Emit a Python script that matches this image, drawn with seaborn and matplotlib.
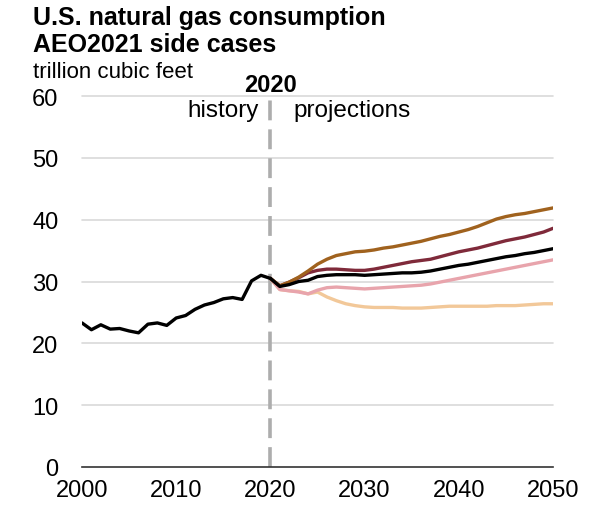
import pandas as pd
import matplotlib
matplotlib.use('Agg')
import matplotlib.pyplot as plt
import seaborn as sns

# history, trillion cubic feet
hist_years = list(range(2000, 2021))
hist_values = [23.3, 22.2, 23.0, 22.3, 22.4, 22.0, 21.7, 23.1, 23.3, 22.9, 24.1,
               24.5, 25.5, 26.2, 26.6, 27.2, 27.4, 27.1, 30.1, 31.0, 30.5]

# projections, starting at the last history year
proj_years = list(range(2020, 2051))
high_supply = [30.5, 29.3, 29.9, 30.7, 31.7, 32.8, 33.6, 34.2, 34.5, 34.8, 34.9,
               35.1, 35.4, 35.6, 35.9, 36.2, 36.5, 36.9, 37.3, 37.6, 38.0,
               38.4, 38.9, 39.5, 40.1, 40.5, 40.8, 41.0, 41.3, 41.6, 41.9]
high_growth = [30.5, 29.3, 29.9, 30.6, 31.4, 31.8, 32.0, 32.0, 31.9, 31.8, 31.8,
               32.0, 32.3, 32.6, 32.9, 33.2, 33.4, 33.6, 34.0, 34.4, 34.8,
               35.1, 35.4, 35.8, 36.2, 36.6, 36.9, 37.2, 37.6, 38.0, 38.6]
reference = [30.5, 29.2, 29.5, 30.0, 30.2, 30.8, 31.0, 31.1, 31.1, 31.1, 31.0,
             31.1, 31.2, 31.3, 31.4, 31.4, 31.5, 31.7, 32.0, 32.3, 32.6,
             32.8, 33.1, 33.4, 33.7, 34.0, 34.2, 34.5, 34.7, 35.0, 35.3]
low_growth = [30.5, 28.7, 28.5, 28.3, 28.0, 28.6, 29.0, 29.1, 29.0, 28.9, 28.8,
              28.9, 29.0, 29.1, 29.2, 29.3, 29.4, 29.6, 29.9, 30.2, 30.5,
              30.8, 31.1, 31.4, 31.7, 32.0, 32.3, 32.6, 32.9, 33.2, 33.5]
low_supply = [30.5, 28.7, 28.5, 28.4, 28.0, 28.3, 27.5, 26.9, 26.4, 26.1, 25.9,
              25.8, 25.8, 25.8, 25.7, 25.7, 25.7, 25.8, 25.9, 26.0, 26.0,
              26.0, 26.0, 26.0, 26.1, 26.1, 26.1, 26.2, 26.3, 26.4, 26.4]

case_names = ['Low oil and gas supply', 'Low economic growth',
              'High economic growth', 'High oil and gas supply', 'Reference']
case_values = [low_supply, low_growth, high_growth, high_supply, reference]
case_colors = ['#F2C899', '#E8A4AC', '#7F2A3A', '#A0621E', '#000000']

rows = []
for name, vals in zip(case_names, case_values):
    for y, v in zip(proj_years, vals):
        rows.append({'year': y, 'value': v, 'case': name})
proj = pd.DataFrame(rows)
hist = pd.DataFrame({'year': hist_years, 'value': hist_values})

sns.set_style('white')
plt.rcParams['font.family'] = ['Liberation Sans', 'DejaVu Sans']
plt.rcParams['text.color'] = 'black'
plt.rcParams['xtick.color'] = 'black'
plt.rcParams['ytick.color'] = 'black'

fig, ax = plt.subplots(figsize=(5.98, 5.06), dpi=100)
fig.subplots_adjust(left=82 / 598, right=553 / 598, top=1 - 97 / 506, bottom=1 - 468 / 506)

# gridlines
for g in range(10, 61, 10):
    ax.axhline(g, color='#D9D9D9', lw=1.2, zorder=0, clip_on=False)

# 2020 divider
ax.axvline(2020, color='#ADADAD', lw=2.6, dashes=(5.5, 2.5), zorder=1)

sns.lineplot(data=proj, x='year', y='value', hue='case', hue_order=case_names,
             palette=dict(zip(case_names, case_colors)), lw=2.4, ax=ax,
             legend=False, zorder=3)
sns.lineplot(data=hist, x='year', y='value', color='black', lw=2.4, ax=ax, zorder=4)

ax.set_xlim(2000, 2050)
ax.set_ylim(0, 60)
ax.set_xticks(range(2000, 2051, 10))
ax.set_yticks(range(0, 61, 10))
ax.set_xlabel('')
ax.set_ylabel('')

for s in ['top', 'right', 'left']:
    ax.spines[s].set_visible(False)
ax.spines['bottom'].set_color('#333333')
ax.spines['bottom'].set_linewidth(1.2)
ax.tick_params(axis='x', direction='out', length=6, width=1.2, color='#333333',
               labelcolor='black', labelsize=17, pad=3)
ax.tick_params(axis='y', length=0, labelcolor='black', labelsize=17, pad=17)

# annotations
ax.text(2020, 60.8, '2020', ha='center', va='baseline', fontsize=17, fontweight='bold')
ax.text(2018.8, 56.8, 'history', ha='right', va='baseline', fontsize=17.5)
ax.text(2022.4, 56.8, 'projections', ha='left', va='baseline', fontsize=17.5)

fig.text(33 / 598, 1 - 25 / 506, 'U.S. natural gas consumption', ha='left', va='baseline',
         fontsize=18, fontweight='bold')
fig.text(33 / 598, 1 - 52 / 506, 'AEO2021 side cases', ha='left', va='baseline',
         fontsize=18, fontweight='bold')
fig.text(33 / 598, 1 - 78 / 506, 'trillion cubic feet', ha='left', va='baseline', fontsize=16)

plt.savefig('out.png', dpi=100)
